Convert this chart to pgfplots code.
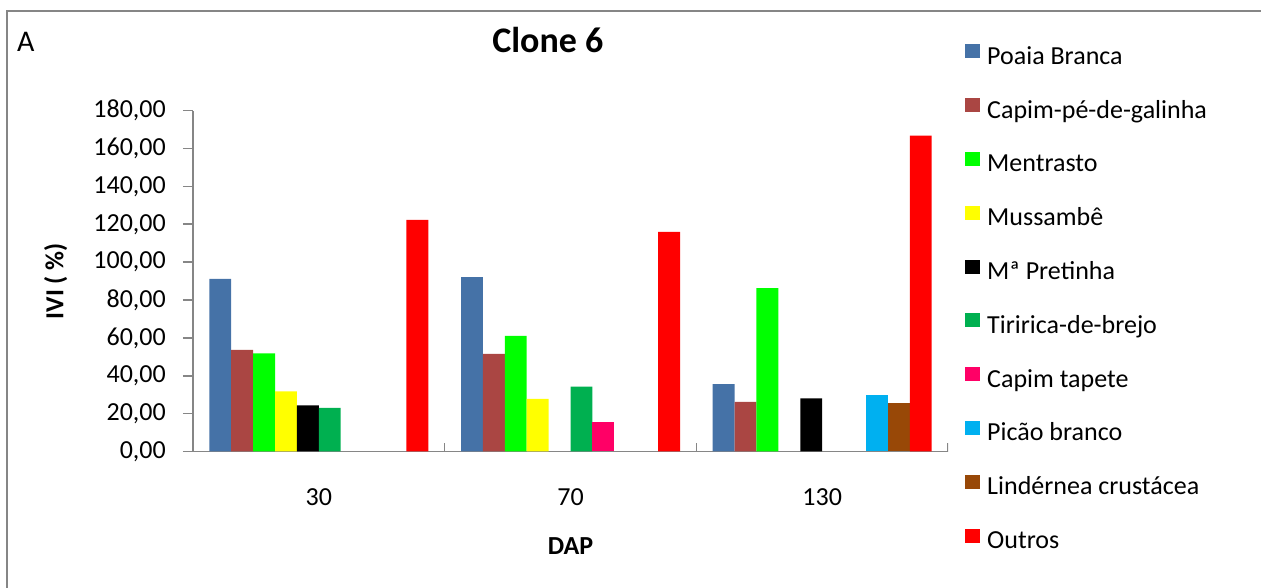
\documentclass[border=0pt]{standalone}
\usepackage{pgfplots}
\pgfplotsset{compat=1.18}
\usepackage{fontspec}
\setmainfont{Carlito}

\definecolor{axisgray}{HTML}{868686}
\definecolor{cPoaia}{HTML}{4572A7}
\definecolor{cCapim}{HTML}{AA4643}
\definecolor{cMentrasto}{HTML}{00FF00}
\definecolor{cMussambe}{HTML}{FFFF00}
\definecolor{cPretinha}{HTML}{000000}
\definecolor{cTiririca}{HTML}{00B050}
\definecolor{cTapete}{HTML}{FF0066}
\definecolor{cPicao}{HTML}{00B0F0}
\definecolor{cLindernea}{HTML}{984807}
\definecolor{cOutros}{HTML}{FF0000}

\begin{document}
\begin{tikzpicture}[x=1pt,y=1pt]
\useasboundingbox (0,0) rectangle (1261,588);
% chart frame (left and top edges)
\draw[axisgray, line width=2pt] (7,0) -- (7,577) -- (1261,577);
\node[anchor=base west, inner sep=0pt, font=\fontsize{30}{36}\selectfont] at (17,536) {A};

\begin{axis}[
  at={(193pt,136.5pt)}, anchor=south west,
  scale only axis, width=755pt, height=340.8pt,
  ybar=0pt, bar width=21.9pt,
  xmin=0.5, xmax=3.5, ymin=0, ymax=180,
  axis x line*=bottom, axis y line*=left,
  axis line style={axisgray, line width=1.6pt, -},
  xtick={1,2,3}, xticklabels={30,70,130},
  xtick style={draw=none},
  ytick={0,20,...,180},
  ytick style={axisgray, line width=1.6pt},
  tick align=outside, major tick length=10pt,
  ticklabel style={font=\fontsize{26}{31}\selectfont},
  xticklabel style={anchor=north, inner sep=0pt, text height=16.5pt, text depth=0pt, yshift=-27pt},
  yticklabel style={anchor=east, inner sep=0pt, xshift=-17pt,
    /pgf/number format/fixed, /pgf/number format/fixed zerofill,
    /pgf/number format/precision=2, /pgf/number format/use comma,
    /pgf/number format/assume math mode=true},
  title={Clone 6},
  title style={at={(axis description cs:0.470,1.152)}, anchor=base,
    inner sep=0pt, font=\bfseries\fontsize{36}{42}\selectfont},
  xlabel={DAP},
  xlabel style={at={(axis description cs:0.5,-0.3037)}, anchor=base,
    inner sep=0pt, font=\bfseries\fontsize{26}{31}\selectfont},
  ylabel={IVI ( \%)},
  ylabel style={at={(axis description cs:-0.182,0.5)}, anchor=center,
    inner sep=0pt, font=\bfseries\fontsize{26}{31}\selectfont},
  legend style={at={(axis description cs:1.0219,1.1948)}, anchor=north west,
    draw=none, fill=none, inner sep=0pt, outer sep=0pt,
    row sep=27.8pt,
    font=\fontsize{26}{31}\selectfont,
    nodes={inner sep=0pt, text height=18pt, text depth=6pt},
    /tikz/every odd column/.append style={column sep=7.7pt}},
  legend cell align=left,
  legend image code/.code={\fill[#1] (0pt,0pt) rectangle (15pt,14pt);},
]
\addplot[fill=cPoaia, draw=none] coordinates {(1,91.2) (2,92.1) (3,35.6)};
\addplot[fill=cCapim, draw=none] coordinates {(1,53.7) (2,51.6) (3,26.2)};
\addplot[fill=cMentrasto, draw=none] coordinates {(1,51.8) (2,61.1) (3,86.3)};
\addplot[fill=cMussambe, draw=none] coordinates {(1,31.7) (2,27.8)};
\addplot[fill=cPretinha, draw=none] coordinates {(1,24.3) (3,28.0)};
\addplot[fill=cTiririca, draw=none] coordinates {(1,23.1) (2,34.3)};
\addplot[fill=cTapete, draw=none] coordinates {(2,15.8)};
\addplot[fill=cPicao, draw=none] coordinates {(3,30.1)};
\addplot[fill=cLindernea, draw=none] coordinates {(3,25.4)};
\addplot[fill=cOutros, draw=none] coordinates {(1,122.4) (2,116.0) (3,166.8)};
\legend{Poaia Branca, Capim-pé-de-galinha, Mentrasto, Mussambê, Mª Pretinha,
  Tiririca-de-brejo, Capim tapete, Picão branco, Lindérnea crustácea, Outros}
% group separators on the category axis
\pgfplotsinvokeforeach{0.5,1.5,2.5,3.5}{
  \draw[axisgray, line width=1.6pt] (axis cs:#1,0) ++(0pt,-9pt) -- ++(0pt,17pt);
}
\end{axis}
\end{tikzpicture}
\end{document}
